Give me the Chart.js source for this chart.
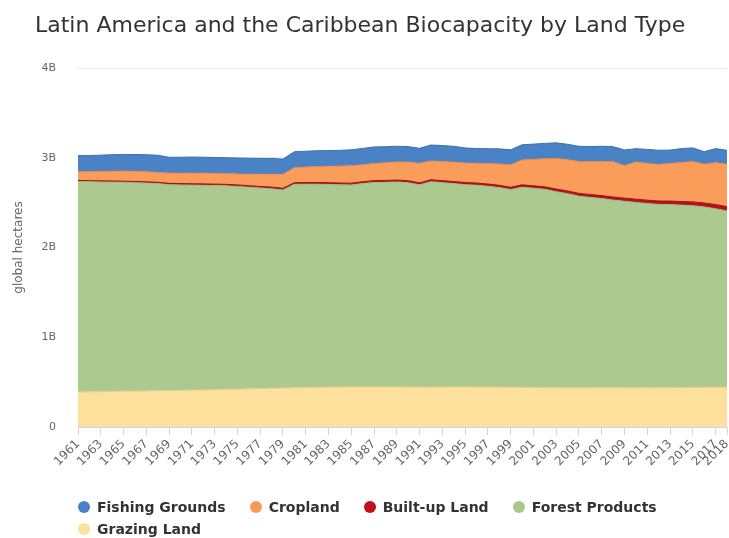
<!DOCTYPE html>
<html>
<head>
<meta charset="utf-8">
<title>Latin America and the Caribbean Biocapacity by Land Type</title>
<script src="https://cdn.jsdelivr.net/npm/chart.js@4.4.1/dist/chart.umd.min.js"></script>
<style>
  html, body { margin: 0; padding: 0; background: #fff; }
  .wrap { position: relative; width: 729px; height: 538px; overflow: hidden; }
  .wrap canvas { position: absolute; left: 0; top: 0; }
  .chart-title {
    position: absolute; left: 35px; top: 12px;
    font: 22px "DejaVu Sans", sans-serif; color: #333; white-space: nowrap;
  }
  .chart-legend {
    position: absolute; left: 78px; top: 496px; width: 620px;
    display: flex; flex-wrap: wrap; column-gap: 24px;
    font: bold 14px "DejaVu Sans", sans-serif; color: #333;
  }
  .chart-legend .item { display: flex; align-items: center; height: 22px; white-space: nowrap; }
  .chart-legend .dot { width: 12px; height: 12px; border-radius: 50%; margin-right: 7px; }
</style>
</head>
<body>
<div class="wrap">
  <canvas id="biocapacity" width="729" height="538"></canvas>
  <div class="chart-title">Latin America and the Caribbean Biocapacity by Land Type</div>
  <div class="chart-legend" id="legend"></div>
</div>
<script>
  // billions of global hectares per year
  const years = [
    1961, 1962, 1963, 1964, 1965, 1966, 1967, 1968, 1969, 1970,
    1971, 1972, 1973, 1974, 1975, 1976, 1977, 1978, 1979, 1980,
    1981, 1982, 1983, 1984, 1985, 1986, 1987, 1988, 1989, 1990,
    1991, 1992, 1993, 1994, 1995, 1996, 1997, 1998, 1999, 2000,
    2001, 2002, 2003, 2004, 2005, 2006, 2007, 2008, 2009, 2010,
    2011, 2012, 2013, 2014, 2015, 2016, 2017, 2018
  ];

  const tickYears = [
    1961, 1963, 1965, 1967, 1969, 1971, 1973, 1975, 1977, 1979,
    1981, 1983, 1985, 1987, 1989, 1991, 1993, 1995, 1997, 1999,
    2001, 2003, 2005, 2007, 2009, 2011, 2013, 2015, 2017, 2018
  ];

  const yTicks = [0, 1, 2, 3, 4];

  const grazing = [
    0.390, 0.392, 0.394, 0.396, 0.398, 0.400, 0.402, 0.404, 0.406, 0.408,
    0.410, 0.413, 0.416, 0.419, 0.422, 0.425, 0.428, 0.431, 0.434, 0.437,
    0.440, 0.442, 0.444, 0.445, 0.446, 0.447, 0.447, 0.446, 0.446, 0.445,
    0.444, 0.444, 0.445, 0.446, 0.446, 0.445, 0.445, 0.444, 0.443, 0.442,
    0.440, 0.439, 0.438, 0.437, 0.437, 0.436, 0.436, 0.436, 0.437, 0.437,
    0.438, 0.438, 0.439, 0.440, 0.441, 0.442, 0.443, 0.443
  ];

  const forest = [
    2.345, 2.341, 2.336, 2.332, 2.328, 2.322, 2.316, 2.308, 2.294, 2.289,
    2.285, 2.280, 2.274, 2.269, 2.258, 2.247, 2.235, 2.224, 2.207, 2.267,
    2.265, 2.263, 2.259, 2.253, 2.251, 2.265, 2.277, 2.280, 2.284, 2.277,
    2.254, 2.289, 2.277, 2.266, 2.254, 2.249, 2.237, 2.224, 2.202, 2.230,
    2.220, 2.209, 2.184, 2.163, 2.135, 2.122, 2.109, 2.092, 2.078, 2.065,
    2.052, 2.042, 2.039, 2.032, 2.025, 2.010, 1.989, 1.964
  ];

  const builtUp = [
    0.012, 0.012, 0.013, 0.013, 0.013, 0.014, 0.014, 0.014, 0.015, 0.015,
    0.015, 0.016, 0.016, 0.016, 0.017, 0.017, 0.017, 0.018, 0.018, 0.018,
    0.019, 0.019, 0.019, 0.020, 0.020, 0.020, 0.021, 0.021, 0.021, 0.022,
    0.022, 0.022, 0.023, 0.023, 0.024, 0.024, 0.025, 0.025, 0.026, 0.026,
    0.027, 0.028, 0.029, 0.030, 0.031, 0.032, 0.033, 0.034, 0.035, 0.036,
    0.037, 0.038, 0.039, 0.040, 0.042, 0.044, 0.046, 0.048
  ];

  const cropland = [
    0.098, 0.100, 0.104, 0.108, 0.112, 0.113, 0.112, 0.110, 0.114, 0.116,
    0.118, 0.119, 0.120, 0.121, 0.122, 0.128, 0.136, 0.145, 0.156, 0.167,
    0.172, 0.178, 0.183, 0.189, 0.194, 0.190, 0.190, 0.198, 0.203, 0.208,
    0.218, 0.210, 0.213, 0.216, 0.218, 0.220, 0.228, 0.238, 0.250, 0.278,
    0.295, 0.312, 0.340, 0.348, 0.356, 0.368, 0.382, 0.394, 0.362, 0.414,
    0.410, 0.408, 0.420, 0.435, 0.450, 0.432, 0.468, 0.472
  ];

  const fishing = [
    0.178, 0.180, 0.182, 0.185, 0.186, 0.187, 0.190, 0.192, 0.176, 0.178,
    0.180, 0.178, 0.177, 0.175, 0.178, 0.178, 0.176, 0.174, 0.170, 0.178,
    0.177, 0.176, 0.175, 0.176, 0.177, 0.182, 0.185, 0.178, 0.174, 0.172,
    0.167, 0.177, 0.178, 0.176, 0.167, 0.165, 0.166, 0.168, 0.167, 0.168,
    0.170, 0.172, 0.175, 0.172, 0.168, 0.167, 0.168, 0.167, 0.175, 0.149,
    0.156, 0.158, 0.148, 0.155, 0.152, 0.139, 0.156, 0.156
  ];

  const font = '"DejaVu Sans", sans-serif';

  // bottom of the stack first
  const series = [
    { label: "Grazing Land", data: grazing, fill: "#fde09b", line: "#e6cf8c", dot: "#fde29c" },
    { label: "Forest Products", data: forest, fill: "#acc98f", line: "#9ab97f", dot: "#a6c98c" },
    { label: "Built-up Land", data: builtUp, fill: "#b5121b", line: "#9c0f17", dot: "#c10f1c" },
    { label: "Cropland", data: cropland, fill: "#fa9c5a", line: "#e8884a", dot: "#f99a5a" },
    { label: "Fishing Grounds", data: fishing, fill: "#4a82c6", line: "#3e6fad", dot: "#4a80c8" },
  ];

  const datasets = series.map((s, i) => ({
    label: s.label,
    data: years.map((year, j) => ({ x: year, y: s.data[j] })),
    backgroundColor: s.fill,
    borderColor: s.line,
    borderWidth: 1,
    fill: i === 0 ? "origin" : "-1",
    pointRadius: 0,
    tension: 0,
  }));

  new Chart(document.getElementById("biocapacity"), {
    type: "line",
    data: { datasets },
    options: {
      responsive: false,
      animation: false,
      layout: { padding: { top: 68, left: 8, right: 2, bottom: 61 } },
      plugins: {
        legend: { display: false },
        title: { display: false },
        tooltip: { mode: "index", intersect: false },
      },
      scales: {
        x: {
          type: "linear",
          min: 1961,
          max: 2018,
          afterBuildTicks: (scale) => {
            scale.ticks = tickYears.map((v) => ({ value: v }));
          },
          afterFit: (scale) => {
            scale.height = 50;
            scale.paddingLeft = 0;
            scale.paddingRight = 0;
          },
          ticks: {
            autoSkip: false,
            minRotation: 45,
            maxRotation: 45,
            padding: 2,
            color: "#666",
            font: { family: font, size: 12 },
            callback: (v) => String(v),
          },
          grid: { drawOnChartArea: false, drawTicks: true, tickLength: 8, color: "#ccd6eb" },
          border: { display: true, color: "#ccd6eb" },
        },
        y: {
          stacked: true,
          min: 0,
          max: 4,
          afterBuildTicks: (scale) => {
            scale.ticks = yTicks.map((v) => ({ value: v }));
          },
          afterFit: (scale) => {
            scale.width = 70;
          },
          ticks: {
            padding: 22,
            color: "#666",
            font: { family: font, size: 11 },
            callback: (v) => (v === 0 ? "0" : v + "B"),
          },
          grid: { color: "#e6e6e6", drawTicks: false },
          border: { display: false },
          title: {
            display: true,
            text: "global hectares",
            color: "#666",
            font: { family: font, size: 12 },
            padding: { top: 4, bottom: 0 },
          },
        },
      },
    },
  });

  // legend in the order the series read top to bottom
  const legend = document.getElementById("legend");
  series.slice().reverse().forEach((s) => {
    const item = document.createElement("span");
    item.className = "item";
    item.innerHTML = `<span class="dot" style="background:${s.dot}"></span>${s.label}`;
    legend.appendChild(item);
  });
</script>
</body>
</html>
